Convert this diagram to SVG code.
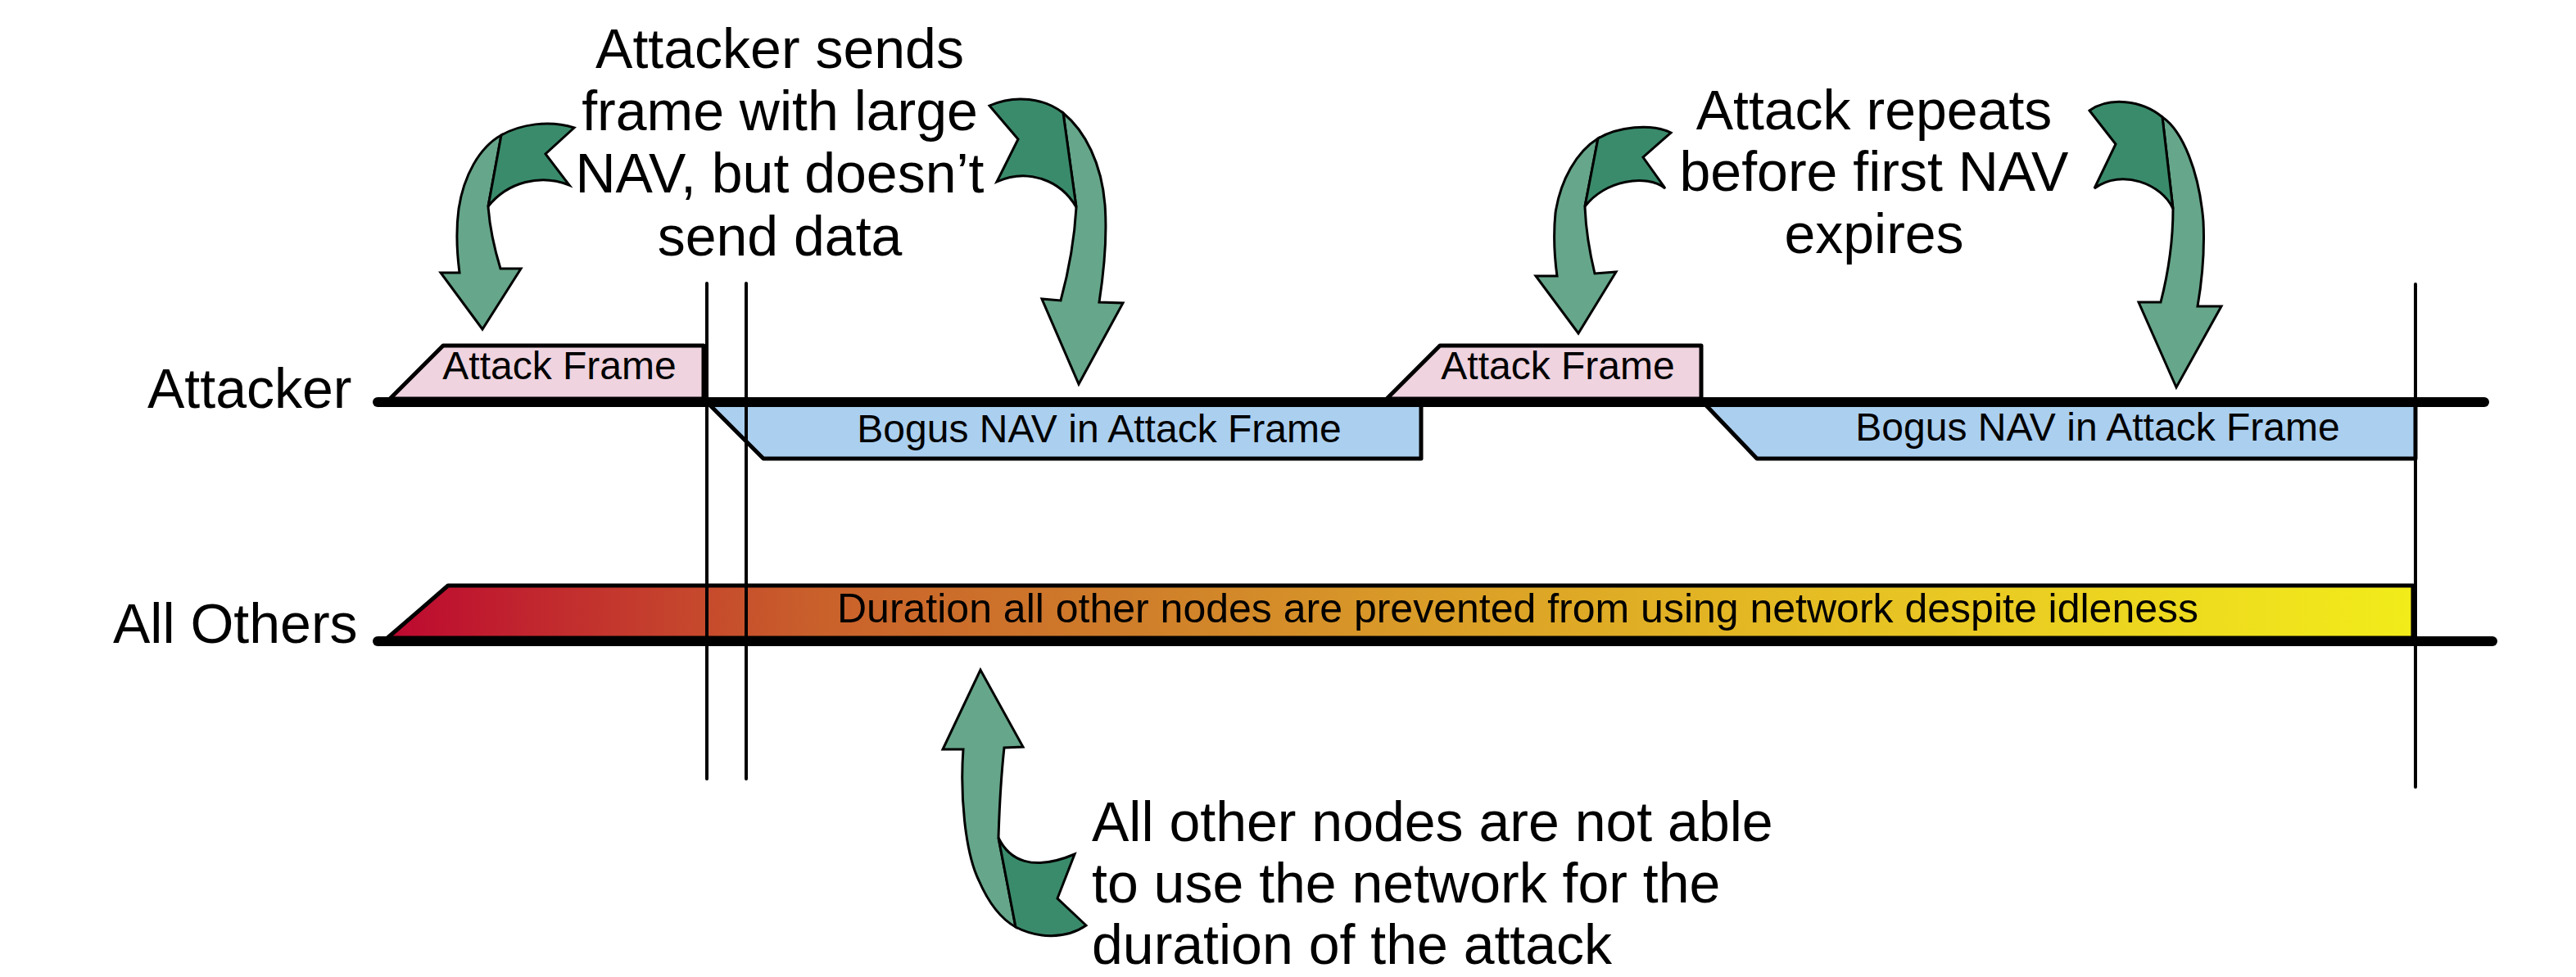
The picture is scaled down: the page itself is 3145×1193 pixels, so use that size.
<svg xmlns="http://www.w3.org/2000/svg" width="3145" height="1193" viewBox="0 0 3145 1193">
<defs>
<linearGradient id="dur" gradientUnits="userSpaceOnUse" x1="473" y1="0" x2="2945" y2="0">
<stop offset="0" stop-color="#BD0830"/>
<stop offset="0.21" stop-color="#C9602B"/>
<stop offset="0.37" stop-color="#CF7E2A"/>
<stop offset="0.5" stop-color="#D99A28"/>
<stop offset="0.65" stop-color="#E2B424"/>
<stop offset="0.78" stop-color="#E9C923"/>
<stop offset="1" stop-color="#F2EC1A"/>
</linearGradient>
<style>
text{font-family:"Liberation Sans",Arial,sans-serif;fill:#000}
.lane{font-size:68px}
.note{font-size:68px}
.box{font-size:48px}
.dur{font-size:50px}
.tl{stroke:#000;stroke-width:12;stroke-linecap:round;fill:none}
.vl{stroke:#000;stroke-width:4;fill:none;stroke-linecap:round}
.frame{fill:#EFD3DF;stroke:#000;stroke-width:5;stroke-linejoin:round}
.nav{fill:#ABCFEF;stroke:#000;stroke-width:5;stroke-linejoin:round}
.grad{fill:url(#dur);stroke:#000;stroke-width:5;stroke-linejoin:round}
.lg{fill:#66A68A;stroke:#000;stroke-width:3;stroke-linejoin:miter}
.dg{fill:#3A8B6B;stroke:#000;stroke-width:3;stroke-linejoin:miter}
</style>
</defs>
<rect width="3145" height="1193" fill="#fff"/>

<g id="lane-attacker">
<text class="lane" x="180" y="498">Attacker</text>
</g>
<g id="lane-others">
<text class="lane" x="138" y="785">All Others</text>
</g>

<g id="frame1">
<path class="frame" d="M476,487 L541,422 L859,422 L859,487 Z"/>
<text class="box" x="683" y="463" text-anchor="middle">Attack Frame</text>
</g>
<g id="nav1">
<path class="nav" d="M866,494 L1735,494 L1735,560 L932,560 Z"/>
<text class="box" x="1342" y="540" text-anchor="middle">Bogus NAV in Attack Frame</text>
</g>
<g id="frame2">
<path class="frame" d="M1693,487 L1758,422 L2077,422 L2077,487 Z"/>
<text class="box" x="1902" y="463" text-anchor="middle">Attack Frame</text>
</g>
<g id="nav2">
<path class="nav" d="M2082,494 L2949,494 L2949,560 L2145,560 Z"/>
<text class="box" x="2561" y="538" text-anchor="middle">Bogus NAV in Attack Frame</text>
</g>
<g id="duration">
<path class="grad" d="M473,779 L547,715 L2946,715 L2946,779 Z"/>
<text class="dur" x="1853" y="760" text-anchor="middle">Duration all other nodes are prevented from using network despite idleness</text>
</g>

<g id="timelines">
<line class="tl" x1="461" y1="491" x2="3033" y2="491"/>
<line class="tl" x1="461" y1="783" x2="3043" y2="783"/>
<line class="vl" x1="863" y1="346" x2="863" y2="951"/>
<line class="vl" x1="911" y1="346" x2="911" y2="951"/>
<line class="vl" x1="2949" y1="347" x2="2949" y2="961"/>
</g>

<g id="note1">
<text class="note" text-anchor="middle" x="952" y="83">Attacker sends</text>
<text class="note" text-anchor="middle" x="952" y="159">frame with large</text>
<text class="note" text-anchor="middle" x="952" y="235">NAV, but doesn’t</text>
<text class="note" text-anchor="middle" x="952" y="312">send data</text>
</g>
<g id="note2">
<text class="note" text-anchor="middle" x="2288" y="158">Attack repeats</text>
<text class="note" text-anchor="middle" x="2288" y="233">before first NAV</text>
<text class="note" text-anchor="middle" x="2288" y="309">expires</text>
</g>
<g id="note3">
<text class="note" x="1333" y="1027">All other nodes are not able</text>
<text class="note" x="1333" y="1102">to use the network for the</text>
<text class="note" x="1333" y="1177">duration of the attack</text>
</g>

<g id="connectors">
<g id="arrow1">
<path class="lg" d="M612,165 C585,180 566,215 560,255 C556,285 558,310 561,333 L538,333 L589,402 L636,328 L611,328 C604,305 598,280 596,252 L612,165 Z"/>
<path class="dg" d="M612,165 C635,152 670,146 701,156 L666,188 L695,226 C660,212 620,222 596,252 L612,165 Z"/>
</g>
<g id="arrow2">
<path class="lg" d="M1298,138 C1325,160 1345,200 1349,250 C1352,290 1348,330 1342,369 L1371,370 L1317,469 L1272,365 L1295,367 C1305,330 1312,290 1314,253 L1298,138 Z"/>
<path class="dg" d="M1208,129 C1240,115 1275,120 1298,138 L1314,253 C1295,220 1255,205 1217,222 L1243,170 Z"/>
</g>
<g id="arrow3">
<path class="lg" d="M1951,169 C1925,185 1905,220 1899,260 C1896,290 1898,315 1901,337 L1875,337 L1927,407 L1973,332 L1947,334 C1940,305 1936,280 1935,252 L1951,169 Z"/>
<path class="dg" d="M1951,169 C1975,155 2015,150 2040,162 L2006,192 L2033,230 C2010,212 1960,220 1935,252 L1951,169 Z"/>
</g>
<g id="arrow4">
<path class="lg" d="M2640,143 C2665,160 2685,210 2690,270 C2692,310 2688,345 2683,374 L2712,374 L2657,473 L2611,369 L2638,369 C2648,330 2653,290 2653,255 L2640,143 Z"/>
<path class="dg" d="M2551,135 C2575,118 2615,122 2640,143 L2653,255 C2640,225 2590,205 2557,230 L2583,176 Z"/>
</g>
<g id="arrow5">
<path class="lg" d="M1226,913 L1249,912 L1197,818 L1151,915 L1176,915 C1172,970 1178,1040 1195,1075 C1208,1105 1222,1122 1240,1132 L1219,1023 C1220,990 1222,950 1226,913 Z"/>
<path class="dg" d="M1219,1023 C1232,1050 1260,1065 1312,1043 L1291,1097 L1326,1130 C1300,1148 1265,1145 1240,1132 L1219,1023 Z"/>
</g>
</g>
</svg>
